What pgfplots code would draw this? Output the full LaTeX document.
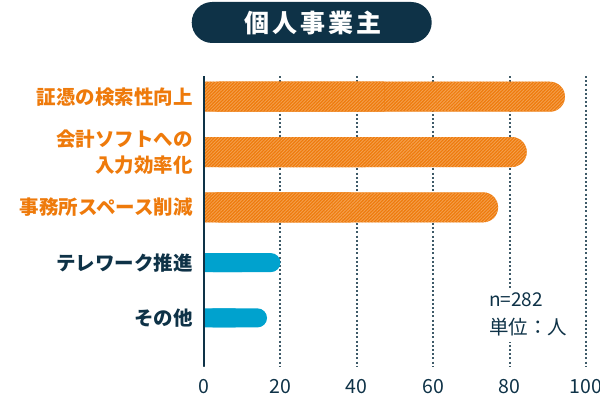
\documentclass[border=0pt]{standalone}
\usepackage{pgfplots}
\usepackage{pgfplotstable}
\pgfplotsset{compat=1.18}
\usepackage{fontspec}
\setmainfont{Noto Sans CJK JP}
\newfontfamily\titlefont{Noto Sans CJK JP}[LetterSpace=12]
\usetikzlibrary{patterns.meta}
\definecolor{navy}{HTML}{0E3247}
\definecolor{orng}{HTML}{EE7A0B}
\definecolor{stripe}{HTML}{F4A04E}
\definecolor{blu}{HTML}{00A2CE}
\definecolor{gridc}{HTML}{3E5A68}
\pgfplotstableread{
y val
0 94.5
1 84.5
2 77
}\orangedata
\pgfplotstableread{
y val
3 20
4 16.5
}\bluedata
\begin{document}
\begin{tikzpicture}
\begin{axis}[
  at={(204pt,30pt)}, anchor=south west,
  scale only axis, width=382pt, height=290pt,
  xmin=0, xmax=100, ymin=-0.375, ymax=4.87, y dir=reverse,
  clip=false,
  xtick={0,20,40,60,80,100},
  ytick={0,1,2,3,4},
  yticklabels={
    {\textcolor{orng}{証憑の検索性向上}},
    {\textcolor{orng}{会計ソフトへの}\\\textcolor{orng}{入力効率化}},
    {\textcolor{orng}{事務所スペース削減}},
    {\textcolor{navy}{テレワーク推進}},
    {\textcolor{navy}{その他}}},
  major tick length=0pt,
  axis line style={draw=none},
  xmajorgrids,
  grid style={gridc, line width=2pt, dash pattern=on 2pt off 2.2pt},
  /pgf/number format/assume math mode=true,
  yticklabel style={font=\fontsize{19.5}{25.6}\selectfont\bfseries, align=right, anchor=east, inner sep=0pt, xshift=-11pt},
  xticklabel style={font=\fontsize{19.5}{22}\selectfont, text=navy, anchor=north, inner sep=0pt, yshift=-13pt},
]
\addplot[xbar, bar width=30pt, bar shift=0pt, draw=none, fill=orng, rounded corners=15pt,
  postaction={pattern={Lines[angle=45, distance=2.3pt, line width=0.9pt]}, pattern color=stripe}]
  table[x=val, y=y] {\orangedata};
\addplot[xbar, bar width=30pt, bar shift=0pt, draw=none, fill=orng,
  postaction={pattern={Lines[angle=45, distance=2.3pt, line width=0.9pt]}, pattern color=stripe}]
  table[x expr=\thisrow{val}/2, y=y] {\orangedata};
\addplot[xbar, bar width=19pt, bar shift=0pt, draw=none, fill=blu, rounded corners=9.5pt]
  table[x=val, y=y] {\bluedata};
\addplot[xbar, bar width=19pt, bar shift=0pt, draw=none, fill=blu]
  table[x expr=\thisrow{val}/2, y=y] {\bluedata};
\draw[navy, line width=2.6pt] (rel axis cs:0,0) -- (rel axis cs:0,1);
\end{axis}
\node[fill=navy, rounded corners=20.5pt, minimum width=240pt, minimum height=41pt, inner sep=0pt]
  at (311.7pt,373.5pt) {};
\node[text=white, font=\titlefont\fontsize{25}{28}\selectfont\bfseries] at (313pt,373.5pt) {個人事業主};
\fill[white] (505pt,54pt) rectangle (516pt,108pt);
\node[anchor=west, text=navy, font=\fontsize{19}{22}\selectfont, inner sep=0pt] at (489pt,96pt) {n=282};
\node[anchor=west, text=navy, font=\fontsize{19.5}{22}\selectfont, inner sep=0pt] at (489pt,69.3pt) {単位：人};
\pgfresetboundingbox
\path (0pt,0pt) rectangle (600pt,396pt);
\end{tikzpicture}
\end{document}
